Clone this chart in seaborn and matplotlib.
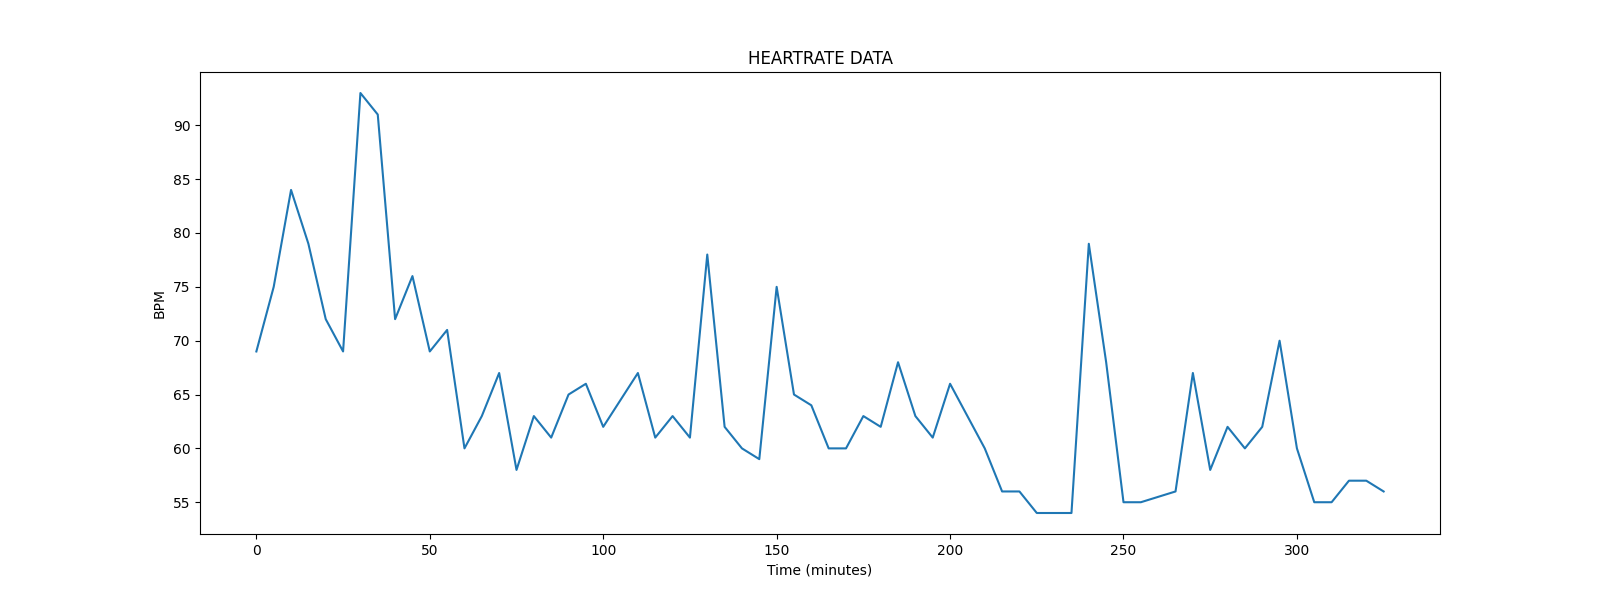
import matplotlib
matplotlib.use("Agg")
import matplotlib.pyplot as plt
import seaborn as sns
import pandas as pd

# readings every 5 minutes (a few are missing: 105, 205, 260)
minutes = [0, 5, 10, 15, 20, 25, 30, 35, 40, 45,
           50, 55, 60, 65, 70, 75, 80, 85, 90, 95,
           100, 110, 115, 120, 125, 130, 135, 140, 145, 150,
           155, 160, 165, 170, 175, 180, 185, 190, 195, 200,
           210, 215, 220, 225, 230, 235, 240, 245, 250, 255,
           265, 270, 275, 280, 285, 290, 295, 300, 305, 310,
           315, 320, 325]
bpm = [69, 75, 84, 79, 72, 69, 93, 91, 72, 76,
       69, 71, 60, 63, 67, 58, 63, 61, 65, 66,
       62, 67, 61, 63, 61, 78, 62, 60, 59, 75,
       65, 64, 60, 60, 63, 62, 68, 63, 61, 66,
       60, 56, 56, 54, 54, 54, 79, 68, 55, 55,
       56, 67, 58, 62, 60, 62, 70, 60, 55, 55,
       57, 57, 56]

df = pd.DataFrame({"time": minutes, "bpm": bpm})

fig, ax = plt.subplots(figsize=(16, 6), dpi=100)
sns.lineplot(data=df, x="time", y="bpm", ax=ax)
ax.set_title("HEARTRATE DATA")
ax.set_xlabel("Time (minutes)")
ax.set_ylabel("BPM")

fig.savefig("out.png")
